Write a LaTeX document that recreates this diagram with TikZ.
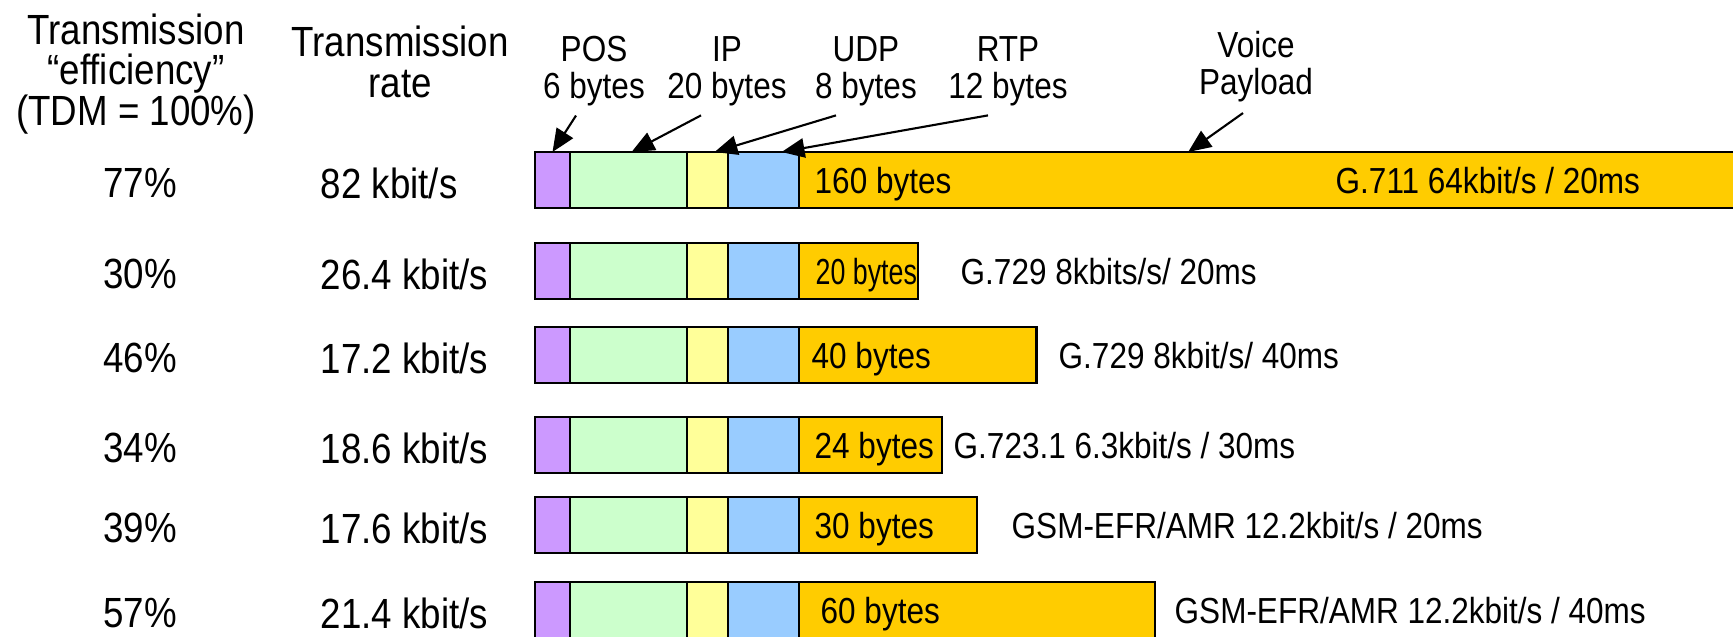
\documentclass[tikz,border=0pt]{standalone}
\usepackage{fontspec}
\setmainfont{Liberation Sans}[FakeStretch=0.87]
\usepackage{graphicx}
\usepackage{tikz}
\usetikzlibrary{arrows.meta,positioning,calc}
\definecolor{posviolet}{RGB}{204,153,255}
\definecolor{ipgreen}{RGB}{204,255,204}
\definecolor{udpyellow}{RGB}{255,255,153}
\definecolor{rtpblue}{RGB}{153,204,255}
\definecolor{voicegold}{RGB}{255,204,0}

\begin{document}
\begin{tikzpicture}[x=0.01cm, y=-0.01cm,
    cell/.style={draw, line width=0.6pt, minimum height=0.56cm, inner sep=0pt, outer sep=0pt},
    bigtxt/.style={font=\fontsize{12}{11.5}\selectfont, align=center, inner sep=0pt},
    smalltxt/.style={font=\fontsize{10.3}{10.5}\selectfont, align=center, inner sep=0pt},
    callout/.style={-{Triangle[length=6.5pt, width=5.5pt]}, line width=0.6pt}]

    % Frame
    \path[use as bounding box] (0,0) rectangle (1733,636);
    \clip (0,0) rectangle (1733,636);

    % Column headings
    \node[bigtxt] (effhead) at (136,74) {Transmission\\“efficiency”\\(TDM = 100\%)};
    \node[bigtxt] (ratehead) at (400,62) {Transmission\\rate};

    % Header field labels
    \node[smalltxt] (poslbl) at (594,71) {POS\\6 bytes};
    \node[smalltxt] (iplbl) at (727,71) {IP\\20 bytes};
    \node[smalltxt] (udplbl) at (866,71) {UDP\\8 bytes};
    \node[smalltxt] (rtplbl) at (1008,71) {RTP\\12 bytes};
    \node[smalltxt] (voicelbl) at (1256,67) {Voice\\Payload};

    % Packet rows
    \foreach \row/\ytop/\nb/\eff/\rate/\codec/\cx/\btxt/\bx in {
        1/152/160/77\%/{82 kbit/s}/{G.711 64kbit/s / 20ms}/1335/{160 bytes}/814,
        2/243/20/30\%/{26.4 kbit/s}/{G.729 8kbits/s/ 20ms}/960/{\scalebox{0.85}[1]{20 bytes}}/815,
        3/327/40/46\%/{17.2 kbit/s}/{G.729 8kbit/s/ 40ms}/1058/{40 bytes}/811,
        4/417/24/34\%/{18.6 kbit/s}/{G.723.1 6.3kbit/s / 30ms}/953/{24 bytes}/814,
        5/497/30/39\%/{17.6 kbit/s}/{GSM-EFR/AMR 12.2kbit/s / 20ms}/1011/{30 bytes}/814,
        6/582/60/57\%/{21.4 kbit/s}/{GSM-EFR/AMR 12.2kbit/s / 40ms}/1174/{60 bytes}/820} {
        \node[cell, fill=posviolet, minimum width=0.35cm, anchor=north west] (pos\row) at (535,\ytop) {};
        \node[cell, fill=ipgreen, minimum width=1.17cm, right=0pt of pos\row] (ip\row) {};
        \node[cell, fill=udpyellow, minimum width=0.41cm, right=0pt of ip\row] (udp\row) {};
        \node[cell, fill=rtpblue, minimum width=0.71cm, right=0pt of udp\row] (rtp\row) {};
        \node[cell, fill=voicegold, minimum width=\nb*0.0593cm, right=0pt of rtp\row] (pay\row) {};
        \node[smalltxt, anchor=base west] (btxt\row) at (\bx,\ytop+41) {\btxt};
        \node[smalltxt, anchor=west] (codec\row) at (\cx,\ytop+29) {\codec};
        \node[bigtxt] (eff\row) at (140,\ytop+31) {\eff};
        \node[bigtxt, anchor=west] (rate\row) at (320,\ytop+31) {\rate};
    }

    % Callout arrows
    \foreach \lbl/\dx/\cell/\ex in {poslbl/-18/pos1/0, iplbl/-26/ip1/3, udplbl/-30/udp1/7, rtplbl/-20/rtp1/18}
        \draw[callout] ($(\lbl.south)+(\dx,9)$) -- ($(\cell.north)+(\ex,0)$);
    \draw[callout] ($(voicelbl.south)+(-13,10)$) -- ($(pay1.north west)+(389,0)$);
\end{tikzpicture}
\end{document}
